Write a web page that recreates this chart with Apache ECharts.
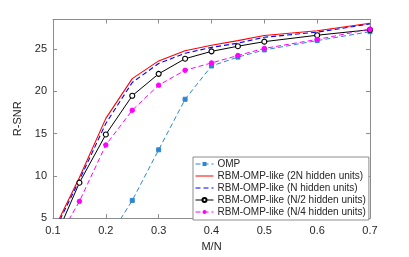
<!DOCTYPE html>
<html><head><meta charset="utf-8">
<script src="https://cdn.jsdelivr.net/npm/echarts@6/dist/echarts.min.js"></script>
<style>html,body{margin:0;padding:0;background:#fff}#c{width:409px;height:257px}</style>
</head><body><div id="c"></div>
<script>
const mn = [0.1, 0.15, 0.2, 0.25, 0.3, 0.35, 0.4, 0.45, 0.5, 0.6, 0.7];
const omp = [-3, 0, 2.1, 7.09, 13.08, 19.06, 23.0, 24.05, 24.9, 26.0, 27.06];
const rbm2N = [3.4, 9.8, 16.8, 21.5, 23.6, 24.8, 25.46, 26.0, 26.6, 27.17, 28.05];
const rbmN = [3.1, 9.5, 16.2, 21.05, 23.3, 24.5, 25.2, 25.7, 26.4, 27.0, 27.97];
const rbmN2 = [2.0, 9.19, 14.9, 19.48, 22.07, 23.86, 24.73, 25.34, 25.88, 26.64, 27.29];
const rbmN4 = [1.5, 6.98, 13.65, 17.76, 20.73, 22.49, 23.36, 24.24, 25.08, 26.14, 27.36];
const names = ['OMP', 'RBM-OMP-like (2N hidden units)', 'RBM-OMP-like (N hidden units)', 'RBM-OMP-like (N/2 hidden units)', 'RBM-OMP-like (N/4 hidden units)'];
const xTicks = [0.1, 0.2, 0.3, 0.4, 0.5, 0.6, 0.7];
const yTicks = [5, 10, 15, 20, 25];

const pair = v => mn.map((x, i) => [x, v[i]]);
const font = 'Liberation Sans, Arial, Helvetica, sans-serif';
const axCol = '#8c8c8c';
const txtCol = '#262626';
const dash = [5, 3];

const chart = echarts.init(document.getElementById('c'), null, {renderer: 'canvas'});
const baseX = {
  type: 'value', min: 0.1, max: 0.7, interval: 0.1,
  axisLine: {show: true, onZero: false, lineStyle: {color: axCol, width: 1}},
  axisTick: {show: true, inside: true, length: 4, lineStyle: {color: axCol}},
  splitLine: {show: false}
};
const baseY = {
  type: 'value', min: 5, max: 28.5, interval: 5,
  axisLine: {show: true, onZero: false, lineStyle: {color: axCol, width: 1}},
  axisTick: {show: true, inside: true, length: 4, lineStyle: {color: axCol}},
  splitLine: {show: false}
};
chart.setOption({
  animation: false,
  backgroundColor: '#fff',
  grid: {left: 53, right: 39, top: 19.5, bottom: 32, containLabel: false},
  xAxis: [
    Object.assign({}, baseX, {
      position: 'bottom', name: 'M/N', nameLocation: 'middle', nameGap: 21,
      nameTextStyle: {fontFamily: font, fontSize: 11, color: txtCol},
      axisLabel: {fontFamily: font, fontSize: 11, color: txtCol, margin: 7,
        formatter: v => xTicks.some(t => Math.abs(t - v) < 1e-6) ? v.toFixed(1) : ''}
    }),
    Object.assign({}, baseX, {position: 'top', axisLabel: {show: false}})
  ],
  yAxis: [
    Object.assign({}, baseY, {
      position: 'left', name: 'R-SNR', nameLocation: 'middle', nameGap: 24, nameRotate: 90,
      nameTextStyle: {fontFamily: font, fontSize: 11, color: txtCol},
      axisLabel: {fontFamily: font, fontSize: 11, color: txtCol, margin: 6,
        formatter: v => yTicks.indexOf(v) >= 0 ? String(v) : '', showMaxLabel: false}
    }),
    Object.assign({}, baseY, {position: 'right', axisLabel: {show: false}})
  ],
  legend: {
    orient: 'vertical', left: 193, top: 157, width: 176,
    backgroundColor: '#fff', borderColor: axCol, borderWidth: 1, borderRadius: 0,
    padding: [1, 3, 2, 2], itemGap: 0, itemWidth: 18, itemHeight: 5,
    lineStyle: {width: 1},
    textStyle: {fontFamily: font, fontSize: 10, color: txtCol, padding: [0, 0, 0, -1], lineHeight: 12},
    data: [
      {name: names[0]},
      {name: names[1], itemStyle: {opacity: 0}},
      {name: names[2], itemStyle: {opacity: 0}},
      {name: names[3]},
      {name: names[4]}
    ]
  },
  series: [
    {name: names[0], type: 'line', data: pair(omp), symbol: 'rect', symbolSize: 4,
      lineStyle: {color: '#2e86cf', width: 1, type: dash},
      itemStyle: {color: '#2e86cf', borderColor: '#2e86cf'}, z: 2},
    {name: names[1], type: 'line', data: pair(rbm2N), symbol: 'none',
      lineStyle: {color: '#ff0000', width: 1.1}, itemStyle: {color: '#ff0000'}, z: 3},
    {name: names[2], type: 'line', data: pair(rbmN), symbol: 'none',
      lineStyle: {color: '#0000ff', width: 1.1, type: dash}, itemStyle: {color: '#0000ff'}, z: 4},
    {name: names[3], type: 'line', data: pair(rbmN2), symbol: 'circle', symbolSize: 5,
      showAllSymbol: true,
      lineStyle: {color: '#000000', width: 1},
      itemStyle: {color: '#ffffff', borderColor: '#000000', borderWidth: 1.1}, z: 5},
    {name: names[4], type: 'line', data: pair(rbmN4), symbol: 'circle', symbolSize: 4.5,
      lineStyle: {color: '#ff00ff', width: 1, type: dash},
      itemStyle: {color: '#ff00ff', borderColor: '#ff00ff'}, z: 6}
  ]
});
</script></body></html>
